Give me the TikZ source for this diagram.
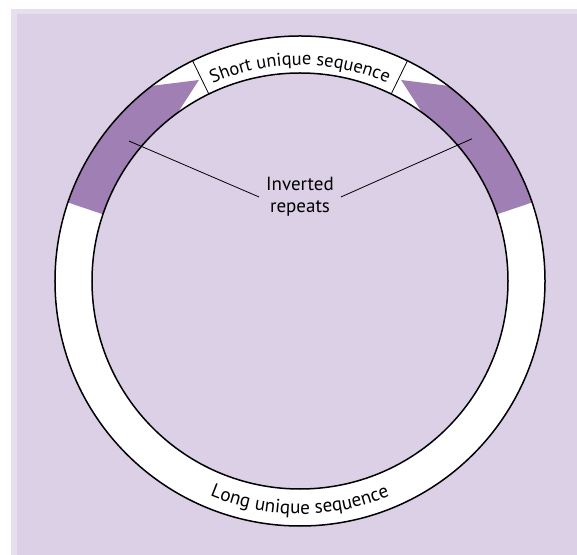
\documentclass[tikz,border=0pt]{standalone}
\usepackage{fontspec}
\setmainfont{PT Sans}
\usepackage{xcolor}
\usepackage{tikz}
\usetikzlibrary{decorations.text}

\definecolor{panel}{RGB}{219,208,229}
\definecolor{panelrim}{RGB}{231,223,238}
\definecolor{repeatfill}{RGB}{160,128,180}

\tikzset{
  ringline/.style={draw=black, line width=0.75pt},
  thinline/.style={draw=black, line width=0.4pt},
  ringtext/.style={postaction={decorate, decoration={text along path,
      text align=center, text={#1}}}}
}

\begin{document}
\begin{tikzpicture}[x=0.5pt, y=0.5pt, font=\fontsize{9.5}{11}\selectfont]
  \useasboundingbox (-300,281) rectangle (277,-274);
  \fill[white] (-300,281) rectangle (277,-274);
  \fill[panelrim] (-289,271.5) rectangle (277,-274);
  \fill[panel] (-283,267) rectangle (277,-274);

  % white ring
  \fill[white, even odd rule] (0,0) circle[radius=245] (0,0) circle[radius=208];

  % inverted repeats, left and right
  \foreach \s in {1,-1}
    \fill[repeatfill, xscale=\s] (161.3:245) arc[start angle=161.3, end angle=127.2, radius=245]
      -- (116.7:225) -- (126:208) arc[start angle=126, end angle=161.3, radius=208] -- cycle;

  \draw[ringline] (0,0) circle[radius=245];
  \draw[ringline] (0,0) circle[radius=208];
  \foreach \a in {116,64}
    \draw[thinline] (\a:208) -- (\a:245);

  % labels on the ring
  \path[ringtext={|\fontsize{9.2}{11}\selectfont|Short unique sequence}]
    (116:216) arc[start angle=116, end angle=64, radius=216];
  \path[ringtext={|\fontsize{9.6}{11}\selectfont|Long unique sequence}]
    (240:233) arc[start angle=240, end angle=300, radius=233];

  \node[align=center] (ir) at (0,84) {Inverted\\repeats};
  \coordinate (lrep) at (140.7:221);
  \coordinate (rrep) at (39.6:223);
  \draw[thinline] (lrep) -- (ir.west);
  \draw[thinline] (rrep) -- (ir.east);
\end{tikzpicture}
\end{document}
